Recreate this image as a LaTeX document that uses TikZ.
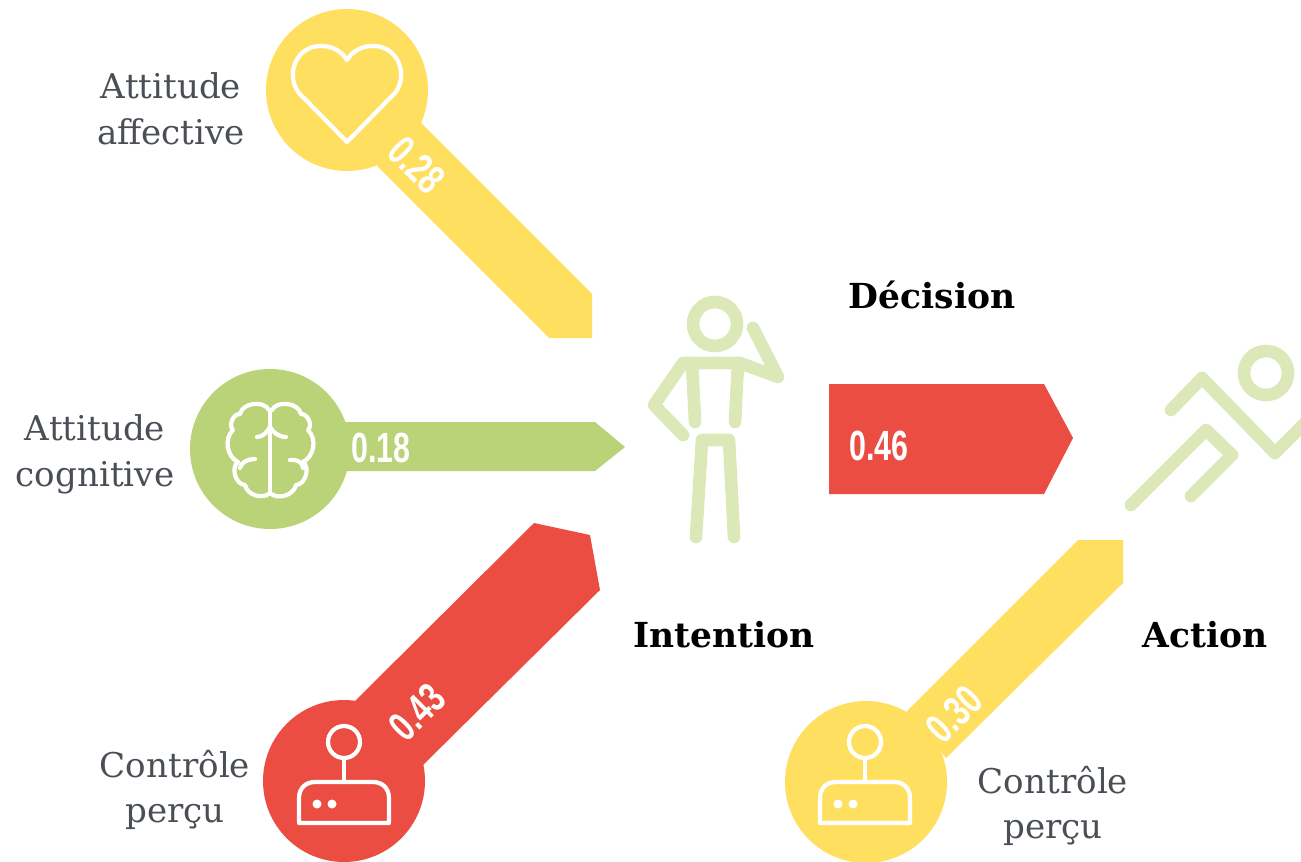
\documentclass[tikz,border=0pt]{standalone}
\usepackage{fontspec}
\setmainfont{DejaVu Serif}
\newfontfamily\numfont[FakeStretch=0.72]{Liberation Sans}
\definecolor{jaune}{HTML}{FFDF60}
\definecolor{vert}{HTML}{BAD379}
\definecolor{rouge}{HTML}{EB4D43}
\definecolor{vertpale}{HTML}{DDE8B9}
\definecolor{gristexte}{HTML}{4A4E55}
\tikzset{
  legende/.style={align=center,text=gristexte,font=\fontsize{9.7}{13}\selectfont},
  etape/.style={text=black,font=\fontsize{9.8}{12}\selectfont\bfseries},
  coef/.style={text=white,font=\numfont\fontsize{12}{12}\selectfont\bfseries},
  icone/.style={draw=white,line width=1.2pt,line cap=round,line join=round},
  silhouette/.style={draw=vertpale,line width=3.6pt,line cap=round,line join=round}
}
\begin{document}
\begin{tikzpicture}[x=0.01cm,y=-0.01cm]
  \useasboundingbox (0,0) rectangle (1301,861);
  \clip (0,0) rectangle (1301,861);
  % fleches et disques
  \fill[jaune] (347,90) circle (81);
  \fill[jaune] (421,123) -- (592,294) -- (592,338) -- (549,338) -- (377,166) -- cycle;
  \fill[vert] (270,449) circle (80);
  \fill[vert] (340,422) -- (595,422) -- (625,447) -- (595,471) -- (340,471) -- cycle;
  \fill[rouge] (344,781) circle (81);
  \fill[rouge] (355,701) -- (534,523) -- (590,535) -- (600,590) -- (423,765) -- cycle;
  \fill[jaune] (866,782) circle (81);
  \fill[jaune] (907,711) -- (1078,540) -- (1123,540) -- (1123,583) -- (946,758) -- cycle;
  \fill[rouge] (829,384) -- (1044,384) -- (1073,438) -- (1044,494) -- (829,494) -- cycle;
  % coeur
  \draw[icone] (347,142) -- (299,93) .. controls (285,75) and (296,45) .. (322,46)
    .. controls (333,46) and (342,52) .. (347,60)
    .. controls (352,52) and (361,46) .. (372,46)
    .. controls (398,45) and (409,75) .. (395,93) -- cycle;
  % cerveau
  \draw[icone] (269,410) to[bend right=70] (240,414) to[bend right=70] (233,430)
    to[bend right=55] (238,462) to[bend right=70] (245,485) to[bend right=60] (270,493)
    to[bend right=60] (296,485) to[bend right=70] (303,462) to[bend right=55] (308,430)
    to[bend right=70] (301,414) to[bend right=70] (272,410);
  \draw[icone] (270,410) -- (270,493);
  \draw[icone] (257,437) .. controls (263,437) and (267,432) .. (270,427)
    .. controls (273,432) and (278,437) .. (286,437);
  \draw[icone] (240,468) .. controls (241,462) and (248,459) .. (255,459);
  \draw[icone] (290,460) .. controls (296,459) and (303,462) .. (303,468);
  % manettes
  \foreach \cx in {344,865} {
    \draw[icone] (\cx,742) circle (16);
    \draw[icone] (\cx,758) -- (\cx,782);
    \draw[icone] (\cx-45,823) -- (\cx-45,798) .. controls (\cx-45,788) and (\cx-38,782) .. (\cx-29,782)
      -- (\cx+29,782) .. controls (\cx+38,782) and (\cx+45,788) .. (\cx+45,798) -- (\cx+45,823) -- cycle;
    \fill[white] (\cx-27,804) circle (4.5);
    \fill[white] (\cx-12,804) circle (4.5);
  }
  % personnage
  \draw[silhouette] (715,324) circle (22);
  \draw[silhouette] (683,435) -- (654,405) -- (683,363) -- (740,363) -- (778,377) -- (753,328);
  \draw[silhouette] (692,363) -- (695,422);
  \draw[silhouette] (738,363) -- (735,422);
  \draw[silhouette] (696,537) -- (702,440) -- (729,440) -- (734,537);
  % coureur
  \draw[silhouette] (1266,373) circle (22);
  \draw[silhouette] (1171,410) -- (1202,378) -- (1275,453) -- (1310,418);
  \draw[silhouette] (1131,505) -- (1206,430) -- (1232,455) -- (1191,496);
  % textes
  \node[legende] (affective) at (171,109) {Attitude\\affective};
  \node[legende] (cognitive) at (95,454) {Attitude\\cognitive};
  \node[legende] (percuA) at (175,790) {Contrôle\\perçu};
  \node[legende] (percuB) at (1053,806) {Contrôle\\perçu};
  \node[etape] (decision) at (932,295) {Décision};
  \node[etape] (intention) at (724,635) {Intention};
  \node[etape] (action) at (1205,635) {Action};
  \node[coef,rotate=-45] (c28) at (417,165) {0.28};
  \node[coef] (c18) at (381,448) {0.18};
  \node[coef,rotate=45] (c43) at (417,712) {0.43};
  \node[coef] (c46) at (879,446) {0.46};
  \node[coef,rotate=45] (c30) at (954,714) {0.30};
\end{tikzpicture}
\end{document}
